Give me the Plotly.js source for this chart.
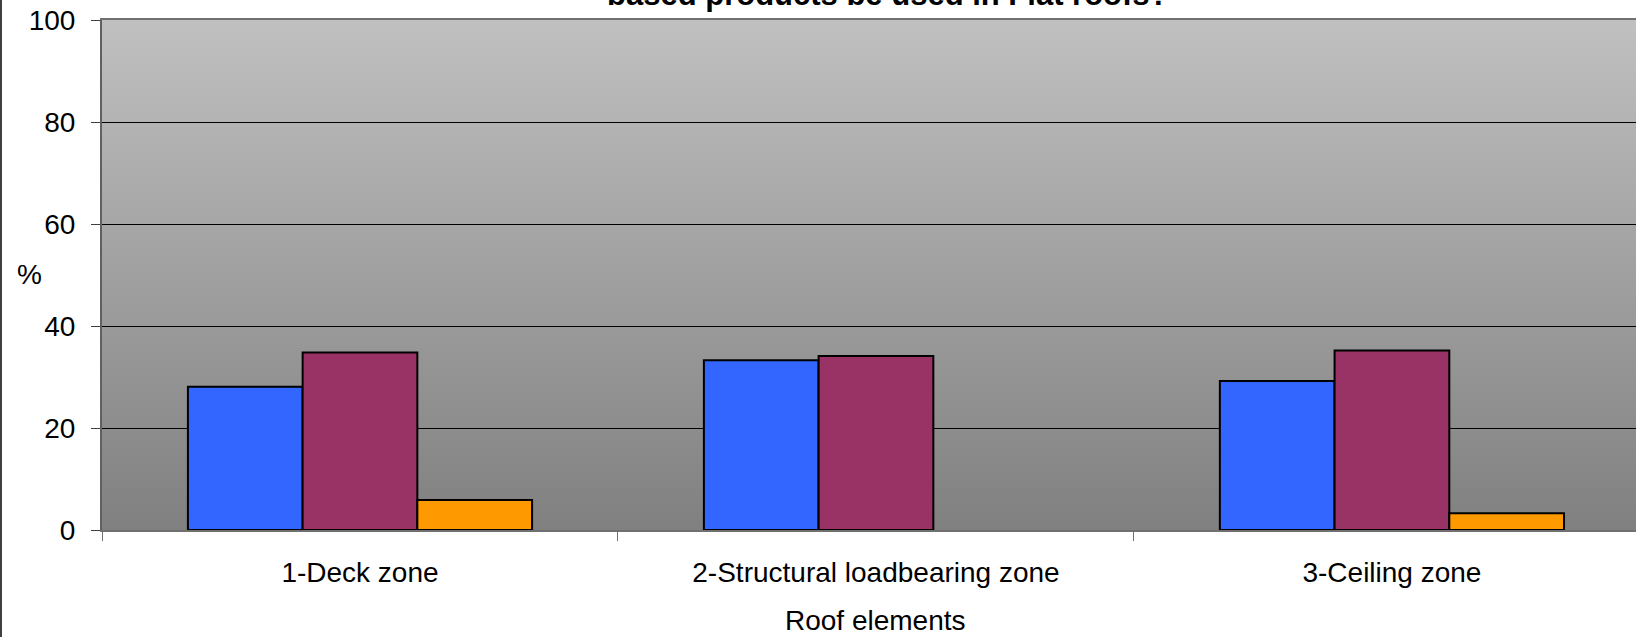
<!DOCTYPE html>
<html>
<head>
<meta charset="utf-8">
<script src="https://cdn.plot.ly/plotly-3.0.1.min.js"></script>
<style>
  html, body { margin: 0; padding: 0; background: #ffffff; overflow: hidden; }
  #wrap { position: relative; width: 1636px; height: 637px; }
  #chart { width: 1636px; height: 637px; }
  #edge { position: absolute; left: 0; top: 0; width: 2px; height: 637px; background: #404040; }
</style>
</head>
<body>
<div id="wrap">
  <div id="chart"></div>
  <div id="edge"></div>
</div>
<script>
// ---- data ----
const categories = ['1-Deck zone', '2-Structural loadbearing zone', '3-Ceiling zone'];
const seriesNames = ['Series 1', 'Series 2', 'Series 3'];
const series1 = [28.1, 33.3, 29.2];
const series2 = [34.8, 34.1, 35.2];
const series3 = [5.9, null, 3.3];
const yTicks = [0, 20, 40, 60, 80, 100];
const titleText = 'based products be used in Flat roofs?';
const xTitleText = 'Roof elements';
const yTitleText = '%';

const colors = ['#3366FF', '#993366', '#FF9900'];
const font = 'Liberation Sans, Arial, sans-serif';

const grad = 'data:image/svg+xml;utf8,' + encodeURIComponent(
  '<svg xmlns="http://www.w3.org/2000/svg" width="10" height="100" preserveAspectRatio="none">' +
  '<defs><linearGradient id="g" x1="0" y1="0" x2="0" y2="1">' +
  '<stop offset="0" stop-color="#c0c0c0"/><stop offset="1" stop-color="#808080"/>' +
  '</linearGradient></defs><rect width="10" height="100" fill="url(#g)"/></svg>');

const allSeries = [series1, series2, series3];
const traces = allSeries.map((vals, i) => ({
  type: 'bar',
  name: seriesNames[i],
  x: categories,
  y: vals,
  marker: { color: colors[i], line: { color: '#000000', width: 2 } },
  hoverinfo: 'x+y+name'
}));

const layout = {
  width: 1636,
  height: 637,
  margin: { l: 102, r: 0, t: 20, b: 107, pad: 0 },
  paper_bgcolor: '#ffffff',
  plot_bgcolor: 'rgba(0,0,0,0)',
  showlegend: false,
  barmode: 'group',
  bargap: 0.333,
  bargroupgap: 0,
  font: { family: font, size: 28, color: '#000000' },
  images: [{
    source: grad, xref: 'paper', yref: 'paper',
    x: 0, y: 1, sizex: 1, sizey: 1, xanchor: 'left', yanchor: 'top',
    sizing: 'stretch', layer: 'below'
  }],
  xaxis: {
    type: 'category',
    range: [-0.5, 2.473],
    showgrid: false,
    showline: true, linecolor: '#707070', linewidth: 2, mirror: true,
    ticks: 'outside', tickson: 'boundaries', ticklen: 9, tickcolor: '#707070', tickwidth: 1,
    tickfont: { family: font, size: 28, color: '#000000' },
    ticklabelstandoff: 16,
    zeroline: false,
    fixedrange: true
  },
  yaxis: {
    range: [0, 100],
    tickvals: yTicks,
    ticktext: yTicks.map(String),
    showgrid: true, gridcolor: '#000000', gridwidth: 1,
    showline: true, linecolor: '#606060', linewidth: 2,
    ticks: 'outside', ticklen: 9, tickcolor: '#404040', tickwidth: 1,
    tickfont: { family: font, size: 28, color: '#000000' },
    ticklabelstandoff: 10,
    zeroline: false,
    fixedrange: true
  },
  annotations: [
    {
      text: '<b>' + titleText + '</b>', xref: 'paper', yref: 'paper',
      x: (888 - 102) / 1534, y: 1, xanchor: 'center', yanchor: 'middle',
      yshift: 26, showarrow: false,
      font: { family: font, size: 31, color: '#000000' }
    },
    {
      text: xTitleText, xref: 'x', yref: 'paper', x: 1, y: 0,
      xanchor: 'center', yanchor: 'middle', yshift: -90, showarrow: false,
      font: { family: font, size: 28, color: '#000000' }
    },
    {
      text: yTitleText, xref: 'paper', yref: 'paper', x: 0, y: (530 - 274) / 510,
      xanchor: 'center', yanchor: 'middle', xshift: -73, showarrow: false,
      font: { family: font, size: 28, color: '#000000' }
    }
  ]
};

Plotly.newPlot('chart', traces, layout, { staticPlot: true, displayModeBar: false });
</script>
</body>
</html>
